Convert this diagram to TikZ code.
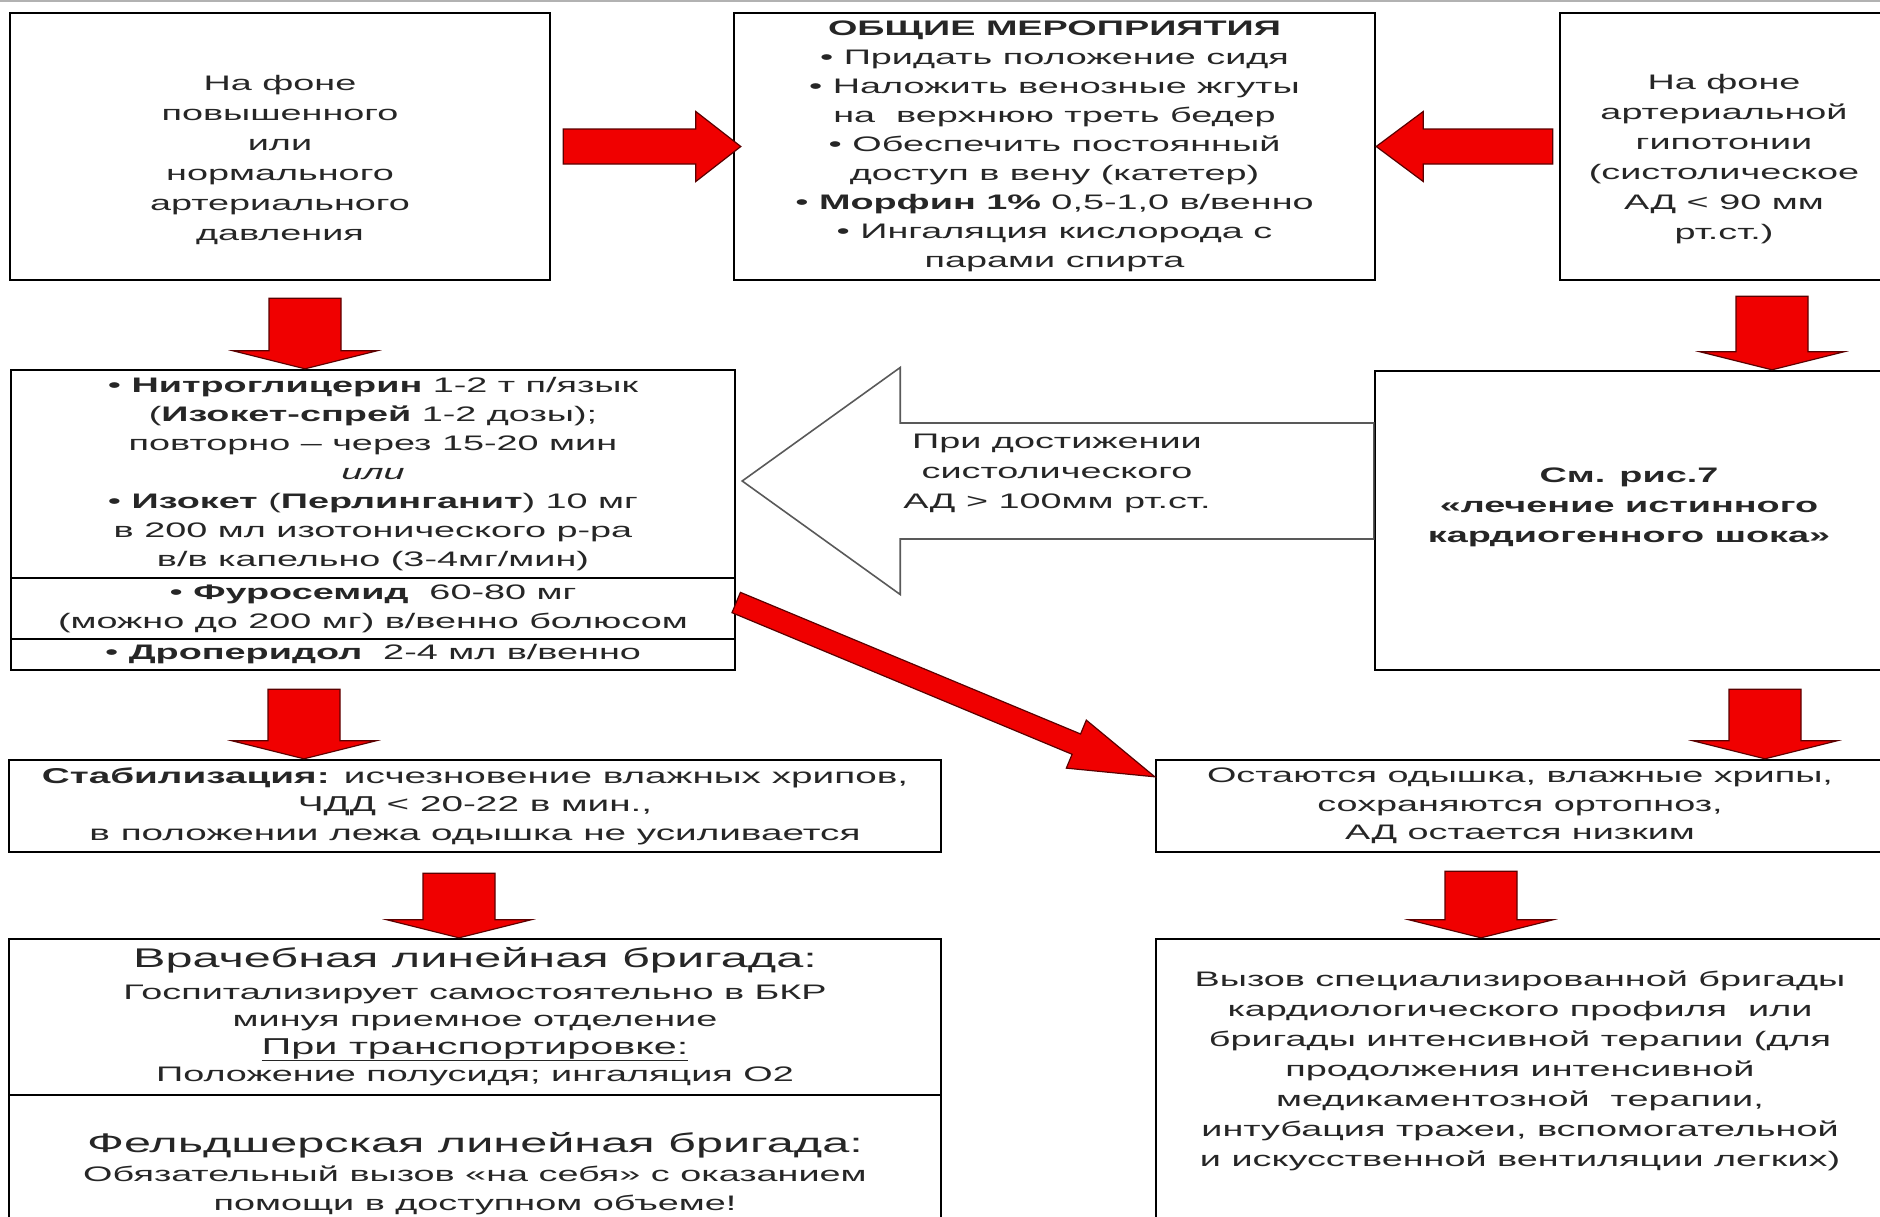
\documentclass[tikz,border=0pt]{standalone}
\usepackage{fontspec}
\setmainfont[FakeStretch=1.8]{Liberation Sans}
\usepackage{xcolor}
\usetikzlibrary{calc}

\definecolor{arrowred}{RGB}{240,0,0}
\definecolor{arrowedge}{RGB}{90,0,0}

% block arrow: [style]{from}{to}{shaft half width}{head half width}{head length}
\newcommand{\fatarrow}[6][redarrow]{%
    \coordinate (fa-s) at #2;
    \coordinate (fa-t) at #3;
    \coordinate (fa-b) at ($(fa-t)!#6!(fa-s)$);
    \path[#1] ($(fa-s)!#4!90:(fa-t)$) -- ($(fa-b)!#4!-90:(fa-s)$)
        -- ($(fa-b)!#5!-90:(fa-s)$) -- (fa-t) -- ($(fa-b)!#5!90:(fa-s)$)
        -- ($(fa-b)!#4!90:(fa-s)$) -- ($(fa-s)!#4!-90:(fa-t)$) -- cycle;
}

\begin{document}
\begin{tikzpicture}[x=1pt, y=-1pt,
    flowtext/.style={align=center, inner sep=2pt, text=black!85,
        font=\fontsize{21}{29}\selectfont},
    flowbox/.style={flowtext, draw=black, line width=2.4pt},
    redarrow/.style={fill=arrowred, draw=arrowedge, line width=1.2pt},
    hollowarrow/.style={draw=black!65, line width=1.6pt}]
    \useasboundingbox (0,0) rectangle (1880,1216);
    \draw[gray!60, line width=2pt] (0,1) -- (1880,1);

    % top row
    \node[flowbox, minimum width=540pt, minimum height=267pt] (hyper) at (280,146.5) {};
    \node[flowtext, font=\fontsize{21}{30}\selectfont] (hypertext) at ([yshift=-13pt]hyper.center)
        {На фоне\\ повышенного\\ или\\ нормального\\ артериального\\ давления};
    \node[flowbox, minimum width=641pt, minimum height=267pt] (general) at (1054.5,146.5)
        {\textbf{ОБЩИЕ МЕРОПРИЯТИЯ}\\
         • Придать положение сидя\\
         • Наложить венозные жгуты\\
         на\ \ верхнюю треть бедер\\
         • Обеспечить постоянный\\
         доступ в вену (катетер)\\
         • \textbf{Морфин 1\%} 0,5-1,0 в/венно\\
         • Ингаляция кислорода с\\
         парами спирта};
    \node[flowbox, minimum width=328pt, minimum height=267pt] (hypo) at (1724,146.5) {};
    \node[flowtext, font=\fontsize{21}{30}\selectfont] (hypotext) at ([yshift=-13pt]hypo.center)
        {На фоне\\ артериальной\\ гипотонии\\ (систолическое\\ АД < 90 мм\\ рт.ст.)};

    % middle row
    \node[flowbox, minimum width=724pt, minimum height=208pt] (nitro) at (373,474)
        {• \textbf{Нитроглицерин} 1-2 т п/язык\\
         (\textbf{Изокет-спрей} 1-2 дозы);\\
         повторно – через 15-20 мин\\
         \textit{или}\\
         • \textbf{Изокет} (\textbf{Перлинганит}) 10 мг\\
         в 200 мл изотонического р-ра\\
         в/в капельно (3-4мг/мин)};
    \node[flowbox, minimum width=724pt, minimum height=61pt] (furo) at (373,608.5)
        {• \textbf{Фуросемид}\ \ 60-80 мг\\ (можно до 200 мг) в/венно болюсом};
    \node[flowbox, minimum width=724pt, minimum height=31pt] (drop) at (373,654.5)
        {• \textbf{Дроперидол}\ \ 2-4 мл в/венно};
    \node[flowbox, minimum width=508pt, minimum height=299pt] (seefig) at (1629,520.5) {};
    \node[flowtext, font=\fontsize{21}{30}\selectfont\bfseries] (seefigtext)
        at ([yshift=13pt]seefig.center)
        {См. рис.7\\ «лечение истинного\\ кардиогенного шока»};
    \node[flowtext, font=\fontsize{21}{30}\selectfont] (cond) at (1057,473)
        {При достижении\\ систолического\\ АД > 100мм рт.ст.};

    % lower rows
    \node[flowbox, minimum width=932pt, minimum height=92pt,
        font=\fontsize{21.5}{28.5}\selectfont] (stab) at (475,806)
        {\textbf{Стабилизация:} исчезновение влажных хрипов,\\
         ЧДД < 20-22 в мин.,\\
         в положении лежа одышка\ не усиливается};
    \node[flowbox, minimum width=728pt, minimum height=92pt,
        font=\fontsize{21}{28.5}\selectfont] (congest) at (1520,806)
        {Остаются одышка, влажные хрипы,\\ сохраняются ортопноз,\\ АД остается низким};
    \node[flowbox, minimum width=932pt, minimum height=156pt,
        font=\fontsize{21}{27.5}\selectfont] (team) at (475,1017)
        {{\fontsize{27}{32}\selectfont Врачебная линейная бригада:}\\[4pt]
         Госпитализирует самостоятельно в БКР\\
         минуя приемное отделение\\
         {\fontsize{23}{28}\selectfont\underline{При транспортировке:}}\\
         Положение полусидя; ингаляция O2};
    \node[flowbox, minimum width=932pt, minimum height=158pt] (feldsher) at (475,1174)
        {{\fontsize{27}{32}\selectfont Фельдшерская линейная бригада:}\\
         Обязательный вызов «на себя» с оказанием\\
         помощи в доступном объеме!};
    \node[flowbox, minimum width=728pt, minimum height=283pt] (special) at (1520,1080.5) {};
    \node[flowtext, font=\fontsize{21}{30}\selectfont] (specialtext)
        at ([yshift=10pt]special.center)
        {Вызов специализированной бригады\\
         кардиологического профиля\ \ или\\
         бригады интенсивной терапии (для\\
         продолжения интенсивной\\
         медикаментозной\ \ терапии,\\
         интубация трахеи, вспомогательной\\
         и искусственной вентиляции легких)};

    % arrows
    \coordinate (back) at ([yshift=39.5pt]seefig.west);
    \fatarrow[hollowarrow]{(back)}{([xshift=6pt]nitro.east |- back)}{58pt}{113.5pt}{158pt}
    \fatarrow{([xshift=12pt]hyper.east)}{([xshift=8pt]hyper.east -| general.west)}{17.5pt}{35pt}{45pt}
    \fatarrow{([xshift=-6pt]hypo.west)}{(hypo.west -| general.east)}{17.5pt}{35pt}{47pt}
    \fatarrow{([xshift=25pt,yshift=-17pt]hyper.south)}{([xshift=25pt]hyper.south |- nitro.north)}{36pt}{72pt}{18pt}
    \fatarrow{([xshift=48pt,yshift=-15pt]hypo.south)}{([xshift=48pt]hypo.south |- seefig.north)}{36pt}{72pt}{18pt}
    \fatarrow{([xshift=-69pt,yshift=-18pt]drop.south)}{([xshift=-69pt]drop.south |- stab.north)}{36pt}{72pt}{18pt}
    \fatarrow{([xshift=136pt,yshift=-18pt]seefig.south)}{([xshift=136pt]seefig.south |- congest.north)}{36pt}{72pt}{18pt}
    \fatarrow{([xshift=-16pt,yshift=-20pt]stab.south)}{([xshift=-16pt]stab.south |- team.north)}{36pt}{72pt}{18pt}
    \fatarrow{([xshift=-39pt,yshift=-18pt]congest.south)}{([xshift=-39pt]congest.south |- special.north)}{36pt}{72pt}{18pt}
    \fatarrow{([yshift=6pt]furo.east)}{([yshift=-18pt]congest.north west)}{11pt}{26pt}{85pt}
\end{tikzpicture}
\end{document}
